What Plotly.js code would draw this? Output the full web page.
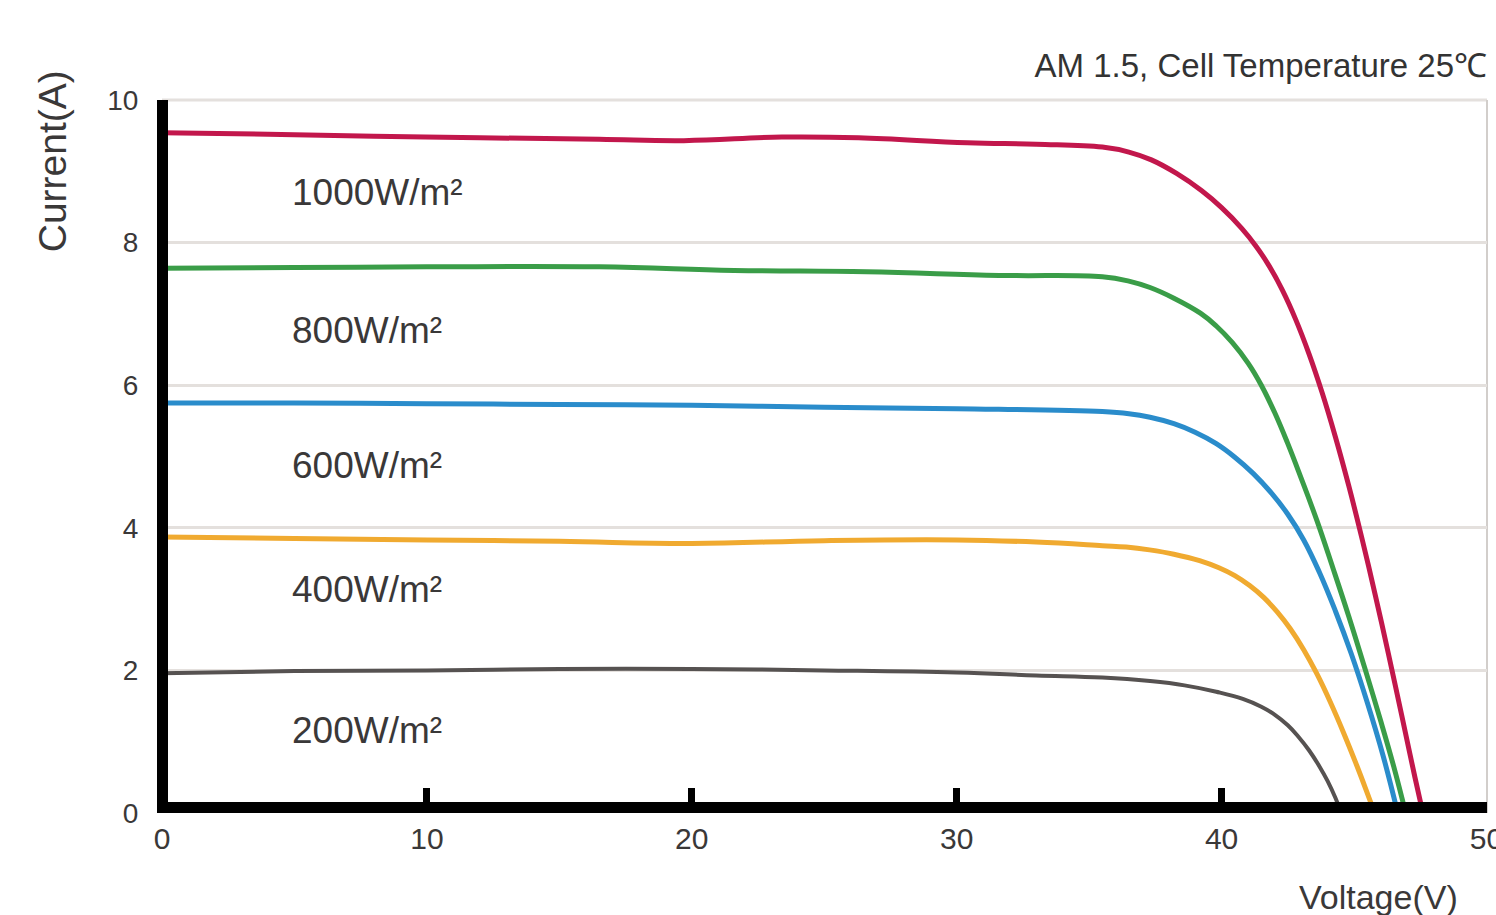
<!DOCTYPE html>
<html>
<head>
<meta charset="utf-8">
<script src="https://cdn.plot.ly/plotly-3.0.1.min.js"></script>
<style>html,body{margin:0;padding:0;background:#fff;}#chart{width:1496px;height:915px;}</style>
</head>
<body>
<div id="chart"></div>
<script>
// Irradiance labels
const seriesNames = ["1000W/m²", "800W/m²", "600W/m²", "400W/m²", "200W/m²"];

// Voltage (V) and current (A)
const v1000 = [0, 4, 8, 12, 16.5, 19.7, 23.4, 26.3, 30.4, 33, 35.5, 36.5, 37.35, 38.3, 39.24, 40.0, 40.76, 41.3, 41.8, 42.3, 42.8, 43.3, 43.8, 44.3, 44.8, 45.3, 45.8, 46.3, 46.8, 47.3, 47.6];
const i1000 = [9.54, 9.52, 9.49, 9.47, 9.45, 9.43, 9.48, 9.47, 9.40, 9.38, 9.34, 9.27, 9.16, 8.97, 8.73, 8.49, 8.2, 7.95, 7.67, 7.33, 6.92, 6.44, 5.89, 5.27, 4.59, 3.85, 3.06, 2.23, 1.37, 0.5, 0];

const v800 = [0, 5, 10, 16.5, 21.6, 26.6, 31.6, 35.5, 36.5, 37.3, 38.2, 39.2, 39.8, 40.4, 41.0, 41.5, 42.0, 42.5, 43.0, 43.6, 44.2, 44.8, 45.4, 46.0, 46.5, 46.95];
const i800 = [7.64, 7.65, 7.66, 7.66, 7.61, 7.59, 7.54, 7.52, 7.46, 7.37, 7.22, 7.01, 6.83, 6.6, 6.31, 6.0, 5.62, 5.18, 4.7, 4.1, 3.44, 2.76, 2.04, 1.3, 0.65, 0];

const v600 = [0, 5, 10, 15, 20, 25, 30, 35.5, 36.5, 37.3, 38.2, 39.0, 39.8, 40.5, 41.2, 41.9, 42.5, 43.1, 43.7, 44.3, 44.9, 45.5, 46.1, 46.65];
const i600 = [5.75, 5.75, 5.74, 5.73, 5.72, 5.69, 5.67, 5.63, 5.6, 5.55, 5.46, 5.34, 5.18, 4.99, 4.76, 4.48, 4.19, 3.83, 3.37, 2.83, 2.23, 1.55, 0.8, 0];

const v400 = [0, 5, 10, 15, 20, 25, 30, 33, 35.5, 36.4, 37.28, 38.2, 39.17, 39.9, 40.5, 41.06, 41.6, 42.1, 42.6, 43.1, 43.6, 44.1, 44.6, 45.1, 45.5, 45.78];
const i400 = [3.87, 3.85, 3.83, 3.81, 3.78, 3.82, 3.83, 3.8, 3.75, 3.73, 3.69, 3.63, 3.54, 3.44, 3.33, 3.19, 3.02, 2.82, 2.58, 2.29, 1.95, 1.56, 1.13, 0.67, 0.28, 0];

const v200 = [0, 5, 10, 15, 20, 25, 30, 33, 35.5, 37.3, 38.6, 39.8, 40.8, 41.5, 42.0, 42.5, 42.9, 43.3, 43.7, 44.0, 44.3, 44.52];
const i200 = [1.96, 1.99, 2.0, 2.02, 2.02, 2.0, 1.97, 1.93, 1.9, 1.85, 1.79, 1.7, 1.6, 1.49, 1.38, 1.23, 1.07, 0.88, 0.65, 0.45, 0.21, 0];

// Label anchor points (voltage, current) for irradiance labels
const labelV = [4.85, 4.85, 4.85, 4.85, 4.85];
const labelI = [8.7, 6.77, 4.88, 3.13, 1.16];

const xTicks = [0, 10, 20, 30, 40, 50];
const yTicks = [0, 2, 4, 6, 8, 10];

const colors = ["#c2174c", "#3a9d48", "#2a8ccb", "#f0aa30", "#565251"];
const widths = [5, 5, 5, 5, 4];
const vs = [v1000, v800, v600, v400, v200];
const is = [i1000, i800, i600, i400, i200];

const FONT = "Liberation Sans, Arial, Helvetica, sans-serif";

const traces = vs.map((v, k) => ({
  x: v, y: is[k], type: "scatter", mode: "lines", name: seriesNames[k],
  line: {color: colors[k], width: widths[k], shape: "spline", smoothing: 1.2, simplify: false},
  hoverinfo: "x+y+name"
}));

const annotations = seriesNames.map((n, k) => ({
  x: labelV[k], y: labelI[k], xref: "x", yref: "y", text: n, showarrow: false,
  xanchor: "left", yanchor: "middle",
  font: {family: FONT, size: 37, color: "#3a3838"}
}));
annotations.push({
  text: "Current(A)", xref: "paper", yref: "paper", x: -0.082, y: 1.045,
  xanchor: "center", yanchor: "top", textangle: -90, showarrow: false,
  font: {family: FONT, size: 39, color: "#3a3838"}
});
annotations.push({
  text: "Voltage(V)", xref: "paper", yref: "paper", x: 0.918, y: -0.088,
  xanchor: "center", yanchor: "top", showarrow: false,
  font: {family: FONT, size: 34, color: "#3a3838"}
});

// light frame on the top and right edges of the plot area
const frameShapes = [
  {type: "line", xref: "paper", yref: "paper", x0: 0, x1: 1, y0: 1, y1: 1,
   line: {color: "#e4e0dd", width: 3}, layer: "below"},
  {type: "line", xref: "paper", yref: "paper", x0: 1, x1: 1, y0: 0, y1: 1,
   line: {color: "#d2cecb", width: 2}, layer: "below"}
];

const layout = {
  width: 1496, height: 915,
  margin: {l: 162, r: 9, t: 100, b: 102, pad: 0},
  paper_bgcolor: "#ffffff", plot_bgcolor: "#ffffff",
  showlegend: false,
  title: {
    text: "AM 1.5, Cell Temperature 25℃",
    x: 1, xref: "paper", xanchor: "right",
    y: 1 - 65 / 915, yref: "container", yanchor: "middle",
    font: {family: FONT, size: 33, color: "#333333"}
  },
  xaxis: {
    range: [0, 50.02], tickvals: xTicks, ticktext: xTicks.map(String),
    anchor: "free", position: 0.0084,
    showline: true, linecolor: "#000", linewidth: 11,
    ticks: "inside", ticklen: 14, tickwidth: 7, tickcolor: "#000",
    showgrid: false, zeroline: false, ticklabeloverflow: "allow",
    tickfont: {family: FONT, size: 30, color: "#3a3838"},
    fixedrange: true
  },
  yaxis: {
    range: [0, 10], tickvals: yTicks, ticktext: yTicks.map(String),
    anchor: "free", position: 0,
    showline: true, linecolor: "#000", linewidth: 11,
    ticks: "", showgrid: true, gridcolor: "#e4e0dd", gridwidth: 3,
    zeroline: false, ticklabelstandoff: 13,
    tickfont: {family: FONT, size: 28, color: "#3a3838"},
    fixedrange: true
  },
  shapes: frameShapes,
  annotations: annotations
};

Plotly.newPlot("chart", traces, layout, {displayModeBar: false, staticPlot: true});
</script>
</body>
</html>
